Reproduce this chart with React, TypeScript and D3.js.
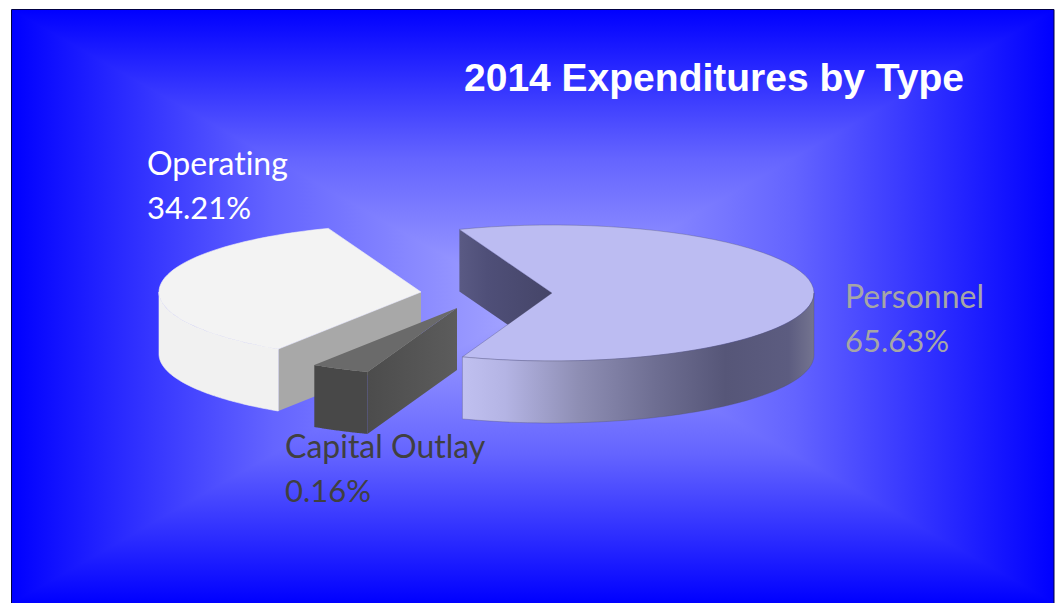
import React from "react";
import * as d3 from "d3";

// ---- data ----
const categories = ["Personnel", "Capital Outlay", "Operating"];
const shares = [65.63, 0.16, 34.21];
const shareLabels = ["65.63%", "0.16%", "34.21%"];
const title = "2014 Expenditures by Type";

// ---- layout ----
const W = 1056, H = 603;
const frame = { x: 12, y: 10, w: 1042, h: 593 };
const glow = { x: 533, y: 306 };
const RX = 262, RY = 68, DEPTH = 62;
const rad = (d: number) => (d * Math.PI) / 180;

// The drawn wedges do not follow their shares strictly: this scale takes the pie's
// angle to the angle seen on the tilted picture.
const pieGen = d3.pie<number>().sort(null).startAngle(0).endAngle(2 * Math.PI);
const arcs = pieGen(shares);
const viewAngle = d3
  .scaleLinear()
  .domain([arcs[0].startAngle, arcs[0].endAngle, arcs[1].endAngle, arcs[2].endAngle])
  .range([rad(-20.7), rad(200), rad(213), rad(339.3)]);

const centres = [
  { x: 552, y: 293 },
  { x: 457, y: 308 },
  { x: 421, y: 292 },
];
const labelPos = [
  { x: 845, y: 308, fill: "#a6a6a6" },
  { x: 285, y: 458, fill: "#404040" },
  { x: 147, y: 175, fill: "#ffffff" },
];
const labelOrder = [2, 0, 1];

const line = d3.line();
type P = [number, number];
const at = (c: { x: number; y: number }, a: number, dy = 0): P => [
  c.x + RX * Math.sin(a),
  c.y - RY * Math.cos(a) + dy,
];
const rim = (c: { x: number; y: number }, a0: number, a1: number, dy = 0): P[] =>
  d3.range(0, 61).map((i) => at(c, a0 + ((a1 - a0) * i) / 60, dy));
const down = (p: P): P => [p[0], p[1] + DEPTH];
const closed = (pts: P[]) => line(pts) + "Z";

const topFace = (c: { x: number; y: number }, a0: number, a1: number) =>
  closed([[c.x, c.y], ...rim(c, a0, a1)]);
const outerWall = (c: { x: number; y: number }, a0: number, a1: number) =>
  closed([...rim(c, a0, a1), ...rim(c, a1, a0, DEPTH)]);
const cutWall = (c: { x: number; y: number }, a: number) => {
  const e = at(c, a);
  const o: P = [c.x, c.y];
  return closed([o, e, down(e), down(o)]);
};

const triangles = (() => {
  const { x, y, w, h } = frame;
  const tl: P = [x, y], tr: P = [x + w, y], br: P = [x + w, y + h], bl: P = [x, y + h];
  const c: P = [glow.x, glow.y];
  return [
    { id: "bgT", pts: [tl, tr, c] as P[], end: [glow.x, y] },
    { id: "bgR", pts: [tr, br, c] as P[], end: [x + w, glow.y] },
    { id: "bgB", pts: [br, bl, c] as P[], end: [glow.x, y + h] },
    { id: "bgL", pts: [bl, tl, c] as P[], end: [x, glow.y] },
  ];
})();

const edge = { stroke: "#50506a", strokeOpacity: 0.4, strokeWidth: 0.8, strokeLinejoin: "round" as const };

export default function App() {
  const [pA0, pA1] = [viewAngle(arcs[0].startAngle), viewAngle(arcs[0].endAngle)];
  const [cA0, cA1] = [viewAngle(arcs[1].startAngle), viewAngle(arcs[1].endAngle)];
  const [oA0, oA1] = [viewAngle(arcs[2].startAngle), viewAngle(arcs[2].endAngle)];
  const [pc, cc, oc] = centres;
  return (
    <svg
      width={W}
      height={H}
      viewBox={`0 0 ${W} ${H}`}
      style={{ position: "absolute", left: 0, top: 0, background: "#fff" }}
    >
      <defs>
        {triangles.map((t) => (
          <linearGradient
            key={t.id}
            id={t.id}
            gradientUnits="userSpaceOnUse"
            x1={glow.x}
            y1={glow.y}
            x2={t.end[0]}
            y2={t.end[1]}
          >
            <stop offset="0" stopColor="#a8a8ff" />
            <stop offset="0.5" stopColor="#6464ff" />
            <stop offset="1" stopColor="#0000ff" />
          </linearGradient>
        ))}
        <linearGradient id="persSide" gradientUnits="userSpaceOnUse" x1={463} y1={0} x2={813} y2={0}>
          <stop offset="0" stopColor="#c0c0f0" />
          <stop offset="0.12" stopColor="#b4b4e4" />
          <stop offset="0.33" stopColor="#8e8eb4" />
          <stop offset="0.55" stopColor="#6e6e92" />
          <stop offset="0.75" stopColor="#565678" />
          <stop offset="0.93" stopColor="#5c5c80" />
          <stop offset="1" stopColor="#73738f" />
        </linearGradient>
        <linearGradient id="persCut" gradientUnits="userSpaceOnUse" x1={459} y1={0} x2={552} y2={0}>
          <stop offset="0" stopColor="#5a5a84" />
          <stop offset="0.3" stopColor="#4f4f78" />
          <stop offset="1" stopColor="#454568" />
        </linearGradient>
        <linearGradient id="capCut" gradientUnits="userSpaceOnUse" x1={368} y1={0} x2={457} y2={0}>
          <stop offset="0" stopColor="#4c4c4c" />
          <stop offset="1" stopColor="#5c5c5c" />
        </linearGradient>
      </defs>

      {triangles.map((t) => (
        <path key={t.id} d={closed(t.pts)} fill={`url(#${t.id})`} shapeRendering="crispEdges" />
      ))}
      <path d={`M${frame.x - 0.5},${H}V${frame.y - 0.5}H${frame.x + frame.w}V${H}`} fill="none" stroke="#000044" strokeWidth={1} />

      {/* Personnel */}
      <path d={cutWall(pc, pA0)} fill="url(#persCut)" />
      <path d={topFace(pc, pA0, pA1)} fill="#bcbcf2" {...edge} />
      <path d={outerWall(pc, rad(90), pA1)} fill="url(#persSide)" {...edge} />

      {/* Operating */}
      <path d={cutWall(oc, oA0)} fill="#a8a8a8" />
      <path d={outerWall(oc, oA0, rad(270))} fill="#f1f1f1" stroke="#f1f1f1" strokeWidth={0.6} />
      <path d={topFace(oc, oA0, oA1)} fill="#f3f3f3" stroke="#f3f3f3" strokeWidth={0.6} />

      {/* Capital Outlay */}
      <path d={outerWall(cc, cA0, cA1)} fill="#484848" />
      <path d={cutWall(cc, cA0)} fill="url(#capCut)" />
      <path d={topFace(cc, cA0, cA1)} fill="#6a6a6a" />

      <text
        x={464}
        y={91}
        fill="#fff"
        fontFamily="'Liberation Sans', Arial, sans-serif"
        fontWeight={700}
        fontSize={39}
      >
        {title}
      </text>

      {labelOrder.map((i) => (
        <text
          key={categories[i]}
          fontFamily="Lato, sans-serif"
          fill={labelPos[i].fill}
          style={{ fontVariantLigatures: "none" }}
        >
          <tspan x={labelPos[i].x} y={labelPos[i].y} fontSize={32}>
            {categories[i]}
          </tspan>
          <tspan x={labelPos[i].x} y={labelPos[i].y + 44} fontSize={31}>
            {shareLabels[i]}
          </tspan>
        </text>
      ))}
    </svg>
  );
}
